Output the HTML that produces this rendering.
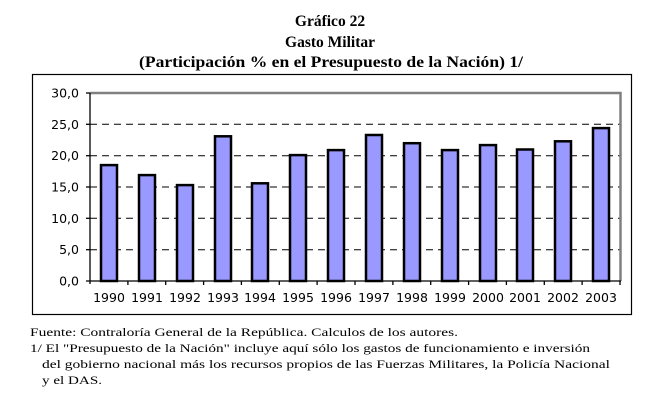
<!DOCTYPE html>
<html><head><meta charset="utf-8"><style>html,body{margin:0;padding:0;background:#fff}svg{display:block}</style></head>
<body>
<svg width="656" height="401" viewBox="0 0 656 401" xmlns="http://www.w3.org/2000/svg">
<g font-family="Liberation Serif, serif" font-weight="bold" font-size="15.5" text-anchor="middle" fill="#000">
<text x="330" y="26">Gráfico 22</text>
<text x="330" y="47">Gasto Militar</text>
<text x="331" y="67" textLength="384" lengthAdjust="spacingAndGlyphs">(Participación % en el Presupuesto de la Nación)  1/</text>
</g>
<rect x="32.5" y="74.5" width="599" height="240" fill="none" stroke="#000" stroke-width="1.2"/>
<g stroke="#000" stroke-width="1" stroke-dasharray="7,5">
<line x1="90" x2="620" y1="124.3" y2="124.3"/>
<line x1="90" x2="620" y1="155.7" y2="155.7"/>
<line x1="90" x2="620" y1="187" y2="187"/>
<line x1="90" x2="620" y1="218.3" y2="218.3"/>
<line x1="90" x2="620" y1="249.7" y2="249.7"/>
</g>
<polyline points="90,93 620.5,93 620.5,281" fill="none" stroke="#808080" stroke-width="2.5"/>
<g fill="#9999ff" stroke="#000" stroke-width="2.5">
<rect x="101" y="165.1" width="16" height="115.9"/>
<rect x="139" y="175.1" width="16" height="105.9"/>
<rect x="177" y="185.1" width="16" height="95.9"/>
<rect x="215" y="136.3" width="16" height="144.7"/>
<rect x="252" y="183.3" width="16" height="97.7"/>
<rect x="290" y="155.1" width="16" height="125.9"/>
<rect x="328" y="150.1" width="16" height="130.9"/>
<rect x="366" y="135.0" width="16" height="146"/>
<rect x="404" y="143.2" width="16" height="137.8"/>
<rect x="442" y="150.1" width="16" height="130.9"/>
<rect x="480" y="145.1" width="16" height="135.9"/>
<rect x="517" y="149.5" width="16" height="131.5"/>
<rect x="555" y="141.3" width="16" height="139.7"/>
<rect x="593" y="128.1" width="16" height="152.9"/>
</g>
<g stroke="#000" stroke-width="1.3">
<line x1="90" y1="93" x2="90" y2="284"/>
<line x1="86" y1="281" x2="621" y2="281"/>
<line x1="86" y1="93" x2="90" y2="93"/><line x1="86" y1="124.3" x2="90" y2="124.3"/><line x1="86" y1="155.7" x2="90" y2="155.7"/><line x1="86" y1="187" x2="90" y2="187"/><line x1="86" y1="218.3" x2="90" y2="218.3"/><line x1="86" y1="249.7" x2="90" y2="249.7"/>
<line x1="127.9" y1="281" x2="127.9" y2="285"/><line x1="165.7" y1="281" x2="165.7" y2="285"/><line x1="203.6" y1="281" x2="203.6" y2="285"/><line x1="241.4" y1="281" x2="241.4" y2="285"/><line x1="279.3" y1="281" x2="279.3" y2="285"/><line x1="317.1" y1="281" x2="317.1" y2="285"/><line x1="355" y1="281" x2="355" y2="285"/><line x1="392.9" y1="281" x2="392.9" y2="285"/><line x1="430.7" y1="281" x2="430.7" y2="285"/><line x1="468.6" y1="281" x2="468.6" y2="285"/><line x1="506.4" y1="281" x2="506.4" y2="285"/><line x1="544.3" y1="281" x2="544.3" y2="285"/><line x1="582.1" y1="281" x2="582.1" y2="285"/><line x1="620" y1="281" x2="620" y2="285"/>
</g>
<g font-family="DejaVu Sans, sans-serif" font-size="12.5" fill="#000" text-anchor="end">
<text x="79" y="97.5">30,0</text><text x="79" y="128.8">25,0</text><text x="79" y="160.2">20,0</text><text x="79" y="191.5">15,0</text><text x="79" y="222.8">10,0</text><text x="79" y="254.2">5,0</text><text x="79" y="285.5">0,0</text>
</g>
<g font-family="DejaVu Sans, sans-serif" font-size="12.5" fill="#000" text-anchor="middle">
<text x="109" y="302">1990</text><text x="147" y="302">1991</text><text x="185" y="302">1992</text><text x="223" y="302">1993</text><text x="260" y="302">1994</text><text x="298" y="302">1995</text><text x="336" y="302">1996</text><text x="374" y="302">1997</text><text x="412" y="302">1998</text><text x="450" y="302">1999</text><text x="488" y="302">2000</text><text x="525" y="302">2001</text><text x="563" y="302">2002</text><text x="601" y="302">2003</text>
</g>
<g font-family="Liberation Serif, serif" font-size="11.5" fill="#000">
<text x="30" y="336" textLength="428" lengthAdjust="spacingAndGlyphs">Fuente: Contraloría General de la República. Calculos de los autores.</text>
<text x="30" y="352" textLength="560" lengthAdjust="spacingAndGlyphs">1/ El "Presupuesto de la Nación" incluye aquí sólo los gastos de funcionamiento e inversión</text>
<text x="42" y="368" textLength="568" lengthAdjust="spacingAndGlyphs">del gobierno nacional más los recursos propios de las Fuerzas Militares, la Policía Nacional</text>
<text x="42" y="384" textLength="60" lengthAdjust="spacingAndGlyphs">y el DAS.</text>
</g>
</svg>
</body></html>
